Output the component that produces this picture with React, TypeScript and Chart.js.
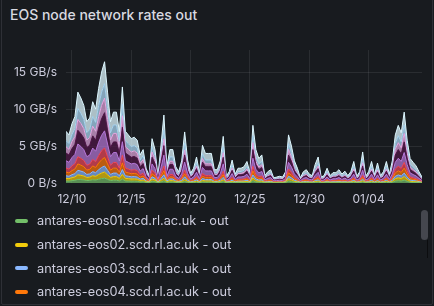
import React, { useEffect, useRef } from "react";
import { Chart, registerables } from "chart.js";

Chart.register(...registerables);

// Time axis: samples every 6 hours, starting 12/09 12:00 (day offsets relative to 12/10)
const START_DAY = -0.5;
const STEP_DAY = 0.25;
const X_TICK_DAYS = [0, 5, 10, 15, 20, 25];
const X_TICK_LABELS = ["12/10", "12/15", "12/20", "12/25", "12/30", "01/04"];
const Y_TICKS = [0, 5, 10, 15];
const Y_TICK_LABELS = ["0 B/s", "5 GB/s", "10 GB/s", "15 GB/s"];

const TITLE = "EOS node network rates out";

const HOSTS = [
  "antares-eos01.scd.rl.ac.uk - out",
  "antares-eos02.scd.rl.ac.uk - out",
  "antares-eos03.scd.rl.ac.uk - out",
  "antares-eos04.scd.rl.ac.uk - out",
  "antares-eos05.scd.rl.ac.uk - out",
  "antares-eos06.scd.rl.ac.uk - out",
  "antares-eos07.scd.rl.ac.uk - out",
  "antares-eos08.scd.rl.ac.uk - out",
  "antares-eos09.scd.rl.ac.uk - out",
  "antares-eos10.scd.rl.ac.uk - out",
];

const COLORS = ["#73BF69", "#F2CC0C", "#8AB8FF", "#FF780A", "#F2495C", "#B877D9", "#511749", "#E5A8E2", "#A8D4F0", "#DDF7FF"];

// GB/s
const eos01 = [.28,.26,.32,.36,.49,.46,.42,.33,.35,.44,.4,.51,.6,.66,.49,.33,.38,.38,.28,.52,.28,.26,.24,.25,.23,.15,.18,.08,.04,.24,.18,
  .03,.15,.28,.07,.14,.14,.07,.05,.09,.21,.09,.04,.06,.11,.04,.15,.12,.12,.12,.05,.05,.09,.19,.03,.05,.09,.04,.06,.06,.07,.09,.04,.31,.14,.1,.11,.03,.05,.05,.02,.02,.03,.02,.05,.26,.2,.09,.06,.02,.05,.05,.04,.03,.08,.11,.02,.03,.06,.03,.04,.04,.05,.04,.05,.03,.05,.09,.03,.05,.13,.03,.05,.09,.03,.08,.03,.05,.09,.04,.09,.26,.31,.27,.38,.23,.1,.08,.07,.05,.02];
const eos02 = [.35,.33,.4,.45,.62,.58,.53,.42,.44,.55,.5,.64,.75,.82,.62,.42,.48,.48,.35,.65,.35,.33,.3,.31,.29,.19,.23,.1,.05,.3,.23,
  .04,.2,.37,.09,.18,.18,.09,.06,.12,.28,.12,.05,.08,.14,.05,.2,.16,.16,.16,.07,.07,.12,.25,.04,.06,.12,.05,.08,.08,.09,.12,.06,.39,.18,.13,.15,.04,.06,.07,.03,.03,.04,.03,.06,.33,.25,.12,.08,.03,.06,.07,.05,.04,.1,.14,.03,.04,.08,.04,.06,.06,.07,.05,.06,.04,.06,.12,.04,.06,.17,.04,.06,.12,.04,.11,.04,.06,.12,.05,.12,.33,.39,.34,.48,.29,.13,.11,.09,.06,.03];
const eos03 = [.35,.32,.4,.45,.61,.57,.52,.41,.44,.55,.5,.64,.75,.82,.61,.41,.48,.48,.35,.65,.35,.32,.3,.31,.29,.19,.23,.1,.05,.3,.23,
  .05,.25,.46,.11,.23,.23,.11,.08,.15,.35,.16,.07,.1,.18,.07,.26,.2,.2,.2,.09,.09,.15,.32,.05,.08,.16,.06,.1,.1,.11,.15,.07,.39,.23,.17,.19,.05,.08,.09,.04,.04,.05,.04,.08,.32,.25,.15,.1,.04,.08,.09,.06,.05,.13,.18,.04,.05,.1,.05,.07,.07,.09,.06,.08,.05,.08,.15,.05,.08,.21,.05,.08,.15,.06,.14,.05,.08,.15,.06,.15,.32,.39,.34,.48,.29,.17,.14,.12,.08,.04];
const eos04 = [.49,.46,.56,.63,.86,.81,.74,.58,.62,.77,.7,.9,1.05,1.15,.86,.58,.67,.67,.48,.91,.49,.46,.42,.43,.41,.27,.32,.14,.07,.42,.32,
  .05,.3,.55,.13,.27,.27,.13,.09,.18,.41,.19,.08,.12,.21,.08,.31,.24,.24,.24,.11,.11,.18,.38,.05,.09,.19,.07,.12,.12,.13,.17,.08,.55,.27,.2,.23,.06,.09,.11,.04,.05,.05,.05,.09,.46,.35,.18,.12,.04,.09,.11,.07,.06,.15,.21,.05,.06,.12,.06,.08,.08,.11,.07,.1,.06,.09,.17,.05,.09,.25,.05,.09,.17,.07,.16,.06,.09,.17,.07,.18,.46,.55,.48,.67,.41,.2,.17,.14,.09,.05];
const eos05 = [.56,.52,.64,.72,.98,.92,.84,.66,.7,.88,.8,1.02,1.2,1.31,.98,.66,.77,.77,.55,1.04,.56,.52,.48,.5,.46,.3,.36,.16,.08,.48,.36,
  .06,.35,.64,.15,.32,.32,.15,.11,.21,.48,.22,.09,.14,.25,.09,.36,.28,.28,.28,.13,.13,.21,.44,.06,.11,.22,.08,.14,.14,.15,.2,.1,.62,.32,.23,.27,.07,.11,.13,.05,.06,.06,.06,.11,.52,.4,.21,.14,.05,.11,.13,.08,.07,.18,.25,.06,.07,.14,.07,.1,.1,.13,.08,.11,.07,.11,.2,.06,.11,.29,.06,.11,.2,.08,.19,.07,.11,.2,.08,.21,.52,.62,.54,.77,.46,.23,.2,.16,.11,.06];
const eos06 = [.98,.91,1.12,1.26,1.72,1.61,1.47,1.16,1.23,1.54,1.4,1.79,2.1,2.3,1.72,1.16,1.34,1.34,.97,1.82,.98,.91,.84,.87,.81,.53,.63,.28,.14,.84,.63,
  .14,.8,1.47,.35,.72,.72,.35,.24,.48,1.1,.5,.21,.32,.56,.21,.82,.64,.64,.64,.29,.29,.48,1.01,.14,.24,.5,.19,.32,.32,.35,.46,.22,1.09,.72,.53,.61,.16,.24,.29,.11,.13,.14,.13,.24,.91,.7,.48,.32,.11,.24,.29,.19,.16,.4,.56,.13,.16,.32,.16,.22,.22,.29,.19,.26,.16,.24,.46,.14,.24,.67,.14,.24,.46,.18,.43,.16,.24,.46,.19,.48,.91,1.09,.95,1.34,.81,.53,.45,.37,.24,.13];
const eos07 = [1.05,.98,1.2,1.35,1.85,1.73,1.57,1.25,1.32,1.65,1.5,1.92,2.25,2.46,1.85,1.25,1.44,1.44,1.04,1.95,1.05,.98,.9,.93,.87,.57,.68,.3,.15,.9,.68,
  .13,.7,1.29,.31,.63,.63,.31,.21,.42,.97,.43,.18,.28,.49,.18,.71,.56,.56,.56,.25,.25,.42,.88,.13,.21,.43,.17,.28,.28,.31,.41,.2,1.17,.63,.46,.53,.14,.21,.25,.1,.11,.13,.11,.21,.98,.75,.42,.28,.1,.21,.25,.17,.14,.35,.49,.11,.14,.28,.14,.2,.2,.25,.17,.22,.14,.21,.41,.13,.21,.59,.13,.21,.41,.15,.38,.14,.21,.41,.17,.42,.98,1.17,1.02,1.44,.87,.46,.39,.32,.21,.11];
const eos08 = [.84,.78,.96,1.08,1.48,1.38,1.26,1.0,1.06,1.32,1.2,1.54,1.8,1.97,1.48,1.0,1.15,1.15,.83,1.56,.84,.78,.72,.74,.7,.46,.54,.24,.12,.72,.54,
  .09,.5,.92,.22,.45,.45,.22,.15,.3,.69,.31,.13,.2,.35,.13,.51,.4,.4,.4,.18,.18,.3,.63,.09,.15,.31,.12,.2,.2,.22,.29,.14,.94,.45,.33,.38,.1,.15,.18,.07,.08,.09,.08,.15,.78,.6,.3,.2,.07,.15,.18,.12,.1,.25,.35,.08,.1,.2,.1,.14,.14,.18,.12,.16,.1,.15,.29,.09,.15,.42,.09,.15,.29,.11,.27,.1,.15,.29,.12,.3,.78,.94,.82,1.15,.7,.33,.28,.23,.15,.08];
const eos09 = [.84,.78,.96,1.08,1.48,1.38,1.26,1.0,1.06,1.32,1.2,1.54,1.8,1.97,1.48,1.0,1.15,1.15,.83,1.56,.84,.78,.72,.74,.7,.46,.54,.24,.12,.72,.54,
  .12,.65,1.2,.29,.59,.59,.29,.2,.39,.9,.4,.17,.26,.46,.17,.66,.52,.52,.52,.23,.23,.39,.82,.12,.2,.4,.16,.26,.26,.29,.38,.18,.94,.59,.43,.49,.13,.2,.23,.09,.1,.12,.1,.2,.78,.6,.39,.26,.09,.2,.23,.16,.13,.33,.46,.1,.13,.26,.13,.18,.18,.23,.16,.21,.13,.2,.38,.12,.2,.55,.12,.2,.38,.14,.35,.13,.2,.38,.16,.39,.78,.94,.82,1.15,.7,.43,.36,.3,.2,.1];
const eos10 = [1.26,1.17,1.44,1.62,2.21,2.07,1.89,1.49,1.58,1.98,1.8,2.3,2.7,2.95,2.21,1.49,1.73,1.73,1.24,2.34,1.26,1.17,1.08,1.12,1.04,.68,.81,.36,.18,1.08,.81,
  .2,1.1,2.02,.48,.99,.99,.48,.33,.66,1.52,.68,.29,.44,.77,.29,1.12,.88,.88,.88,.4,.4,.66,1.39,.2,.33,.68,.26,.44,.44,.48,.64,.31,1.4,.99,.73,.84,.22,.33,.4,.15,.18,.2,.18,.33,1.17,.9,.66,.44,.15,.33,.4,.26,.22,.55,.77,.18,.22,.44,.22,.31,.31,.4,.26,.35,.22,.33,.64,.2,.33,.92,.2,.33,.64,.24,.59,.22,.33,.64,.26,.66,1.17,1.4,1.22,1.73,1.04,.73,.62,.51,.33,.18];

const SERIES = [eos01, eos02, eos03, eos04, eos05, eos06, eos07, eos08, eos09, eos10];

function hexToRgba(hex: string, a: number) {
  const n = parseInt(hex.slice(1), 16);
  return `rgba(${(n >> 16) & 255},${(n >> 8) & 255},${n & 255},${a})`;
}

const FONT = "Inter, 'Noto Sans', sans-serif";
const TEXT = "#ccccdc";

export default function App() {
  const ref = useRef<HTMLCanvasElement | null>(null);

  useEffect(() => {
    document.body.style.margin = "0";
    document.body.style.background = "#111217";
    if (!ref.current) return;
    const datasets = SERIES.map((vals, k) => ({
      label: HOSTS[k],
      data: vals.map((v, i) => ({ x: START_DAY + i * STEP_DAY, y: v })),
      borderColor: COLORS[k],
      backgroundColor: hexToRgba(COLORS[k], k >= 8 ? 0.75 : 0.7),
      borderWidth: 1,
      pointRadius: 0,
      tension: 0,
      fill: k === 0 ? "origin" : "-1",
    }));
    const chart = new Chart(ref.current, {
      type: "line",
      data: { datasets },
      options: {
        animation: false,
        responsive: false,
        maintainAspectRatio: false,
        layout: { padding: { left: 0, top: 50, right: 12, bottom: 0 } },
        plugins: { legend: { display: false }, tooltip: { enabled: false }, title: { display: false } },
        scales: {
          x: {
            type: "linear",
            min: START_DAY,
            max: START_DAY + (eos01.length - 1) * STEP_DAY,
            afterBuildTicks: (s: any) => { s.ticks = X_TICK_DAYS.map((v) => ({ value: v })); },
            afterFit: (s: any) => { s.height = 27; },
            ticks: {
              color: TEXT,
              font: { family: FONT, size: 12 },
              padding: 9,
              maxRotation: 0,
              autoSkip: false,
              callback: (v: any) => X_TICK_LABELS[X_TICK_DAYS.indexOf(Number(v))] ?? "",
            },
            grid: { color: "rgba(204,204,220,0.1)", drawTicks: false },
            border: { display: false },
          },
          y: {
            stacked: true,
            min: 0,
            max: 18,
            afterBuildTicks: (s: any) => { s.ticks = Y_TICKS.map((v) => ({ value: v })); },
            afterFit: (s: any) => { s.width = 66; },
            ticks: {
              color: TEXT,
              font: { family: FONT, size: 12 },
              padding: 9,
              callback: (v: any) => Y_TICK_LABELS[Y_TICKS.indexOf(Number(v))] ?? "",
            },
            grid: { color: (c: any) => (c.tick && c.tick.value === 0 ? "rgba(0,0,0,0)" : "rgba(204,204,220,0.1)"), drawTicks: false },
            border: { display: false },
          },
        },
      },
    } as any);
    return () => chart.destroy();
  }, []);

  return (
    <div style={{ position: "relative", width: 434, height: 306, background: "#181b1f", overflow: "hidden", fontFamily: FONT }}>
      <div style={{ position: "absolute", left: 1, top: -2, width: 430, height: 305, border: "1px solid rgba(204,204,220,0.12)", borderRadius: 2, pointerEvents: "none" }} />
      <div style={{ position: "absolute", left: 10, top: 5, fontSize: 14, fontWeight: 500, color: "#d8d9e0", lineHeight: "20px", whiteSpace: "nowrap" }}>{TITLE}</div>
      <canvas ref={ref} width={434} height={210} style={{ position: "absolute", left: 0, top: 0, width: 434, height: 210 }} />
      <div style={{ position: "absolute", left: 15, top: 209, height: 95, overflow: "hidden" }}>
        {HOSTS.map((h, k) => (
          <div key={h} style={{ display: "flex", alignItems: "center", height: 23.7 }}>
            <span style={{ display: "inline-block", width: 13, height: 4, borderRadius: 2, background: COLORS[k], marginRight: 9 }} />
            <span style={{ fontSize: 12.75, color: TEXT, whiteSpace: "nowrap" }}>{h}</span>
          </div>
        ))}
      </div>
      <div style={{ position: "absolute", left: 421, top: 210, width: 7, height: 30, borderRadius: 4, background: "rgba(204,204,220,0.25)" }} />
      <div style={{ position: "absolute", left: 427, top: 240, width: 1, height: 18, background: "rgba(0,0,0,0.5)" }} />
    </div>
  );
}
